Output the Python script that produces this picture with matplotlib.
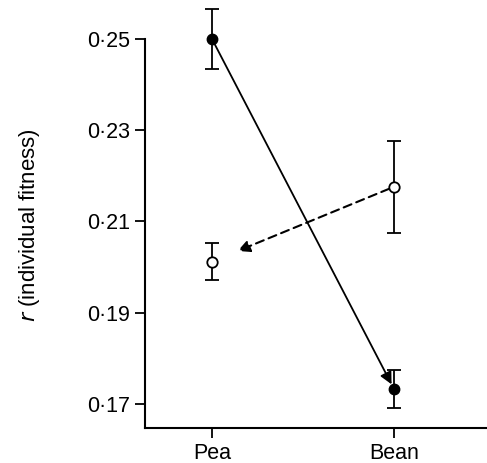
import matplotlib
matplotlib.use("Agg")
import matplotlib.pyplot as plt

plt.rcParams['font.family'] = ['Liberation Sans', 'DejaVu Sans']

categories = ["Pea", "Bean"]
filled_vals = [0.250, 0.1732]
filled_err = [0.0066, 0.0042]
open_vals = [0.2012, 0.2176]
open_err = [0.0040, 0.0101]
yticks = [0.17, 0.19, 0.21, 0.23, 0.25]
ytick_labels = ["0·17", "0·19", "0·21", "0·23", "0·25"]

fig = plt.figure(figsize=(4.87, 4.63), dpi=100)
ax = fig.add_axes([0.2977, 0.0756, 0.7023, 0.8402])
x = list(range(len(categories)))

ax.errorbar(x, filled_vals, yerr=filled_err, fmt='o', color='black', ms=7.5,
            mfc='black', mec='black', capsize=5, elinewidth=1.3, capthick=1.3, clip_on=False, zorder=3)
ax.errorbar(x, open_vals, yerr=open_err, fmt='o', color='black', ms=7.5,
            mfc='white', mec='black', mew=1.3, capsize=5, elinewidth=1.3, capthick=1.3, clip_on=False, zorder=3)

ax.annotate("", xy=(x[1], filled_vals[1]), xytext=(x[0], filled_vals[0]),
            arrowprops=dict(arrowstyle='-|>', color='black', lw=1.3, shrinkA=0, shrinkB=4,
                            mutation_scale=18), zorder=2)
ax.annotate("", xy=(x[0], open_vals[0]), xytext=(x[1], open_vals[1]),
            arrowprops=dict(arrowstyle='-|>', color='black', lw=1.5, ls=(0, (4, 2.5)), shrinkA=4, shrinkB=20,
                            mutation_scale=18), zorder=2)

ax.set_xlim(-0.368, 1.51)
ax.set_ylim(0.1647, 0.250)
ax.set_xticks(x)
ax.set_xticklabels(categories)
ax.set_yticks(yticks)
ax.set_yticklabels(ytick_labels)
for s in ['top', 'right']:
    ax.spines[s].set_visible(False)
for s in ['left', 'bottom']:
    ax.spines[s].set_linewidth(1.5)
ax.tick_params(axis='both', direction='out', length=7, width=1.3, labelsize=15.5, pad=4)
ax.set_ylabel(r"$\it{r}$ (individual fitness)", fontsize=16)
ax.yaxis.set_label_coords(-0.301, 0.522)

fig.savefig("out.png", dpi=100)
